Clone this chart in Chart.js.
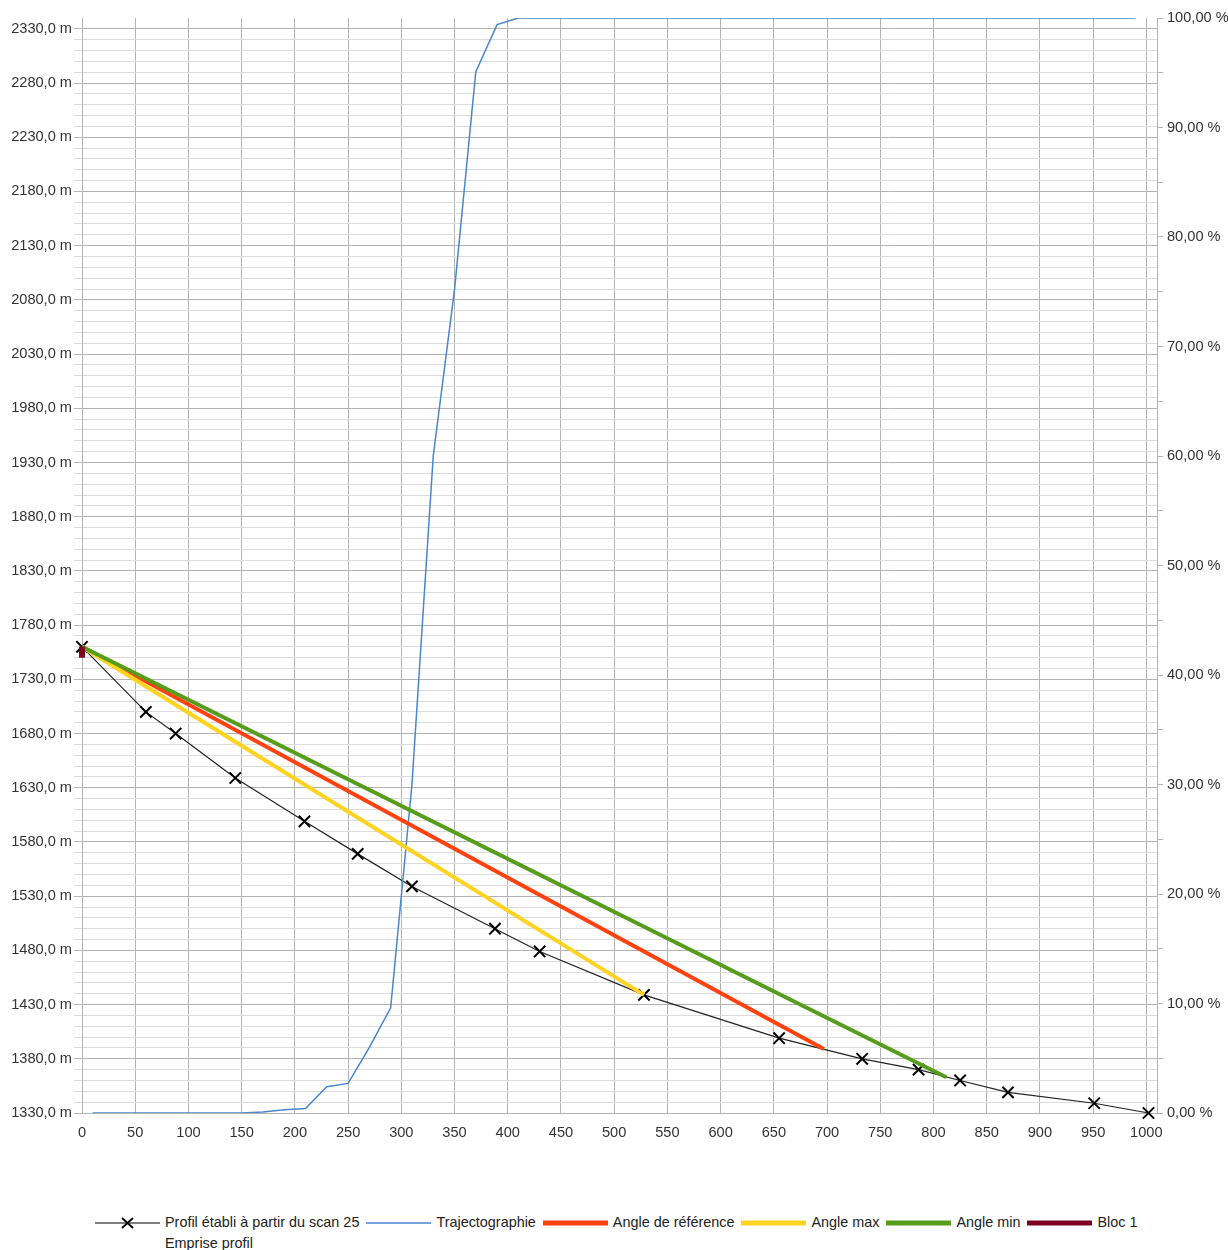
<!DOCTYPE html>
<html lang="fr">
<head>
  <meta charset="UTF-8">
  <title>Profil et trajectographie</title>
  <script src="https://cdn.jsdelivr.net/npm/chart.js"></script>
  <style>
    body {
      margin: 0;
      background: #fff;
      font-family: 'Liberation Sans', Arial, sans-serif;
    }
    #wrap {
      width: 1228px;
      height: 1160px;
    }
    .legend {
      display: flex;
      flex-wrap: wrap;
      width: 1080px;
      margin: 52px 0 0 95px;
      font-size: 14.4px;
      line-height: 21px;
      color: #222;
    }
    .item {
      display: flex;
      align-items: center;
      margin-right: 7px;
    }
    .item svg {
      margin-right: 5px;
    }
  </style>
</head>
<body>
  <div id="wrap"><canvas id="chartProfil" width="1228" height="1160"></canvas></div>
  <div class="legend" id="legend"></div>

  <script>
    // profil du terrain (distance, altitude)
    const profilX = [0, 60, 88, 144, 209, 259, 310, 388, 430, 528, 655, 733, 786, 825, 870, 951, 1002];
    const profilY = [1760, 1700, 1680, 1639, 1599, 1569, 1539, 1500, 1479, 1439, 1399, 1380, 1370, 1360, 1349, 1339, 1330];

    // trajectographie : % cumulé des arrêts (axe de droite)
    const trajX = [10, 30, 50, 70, 90, 110, 130, 150, 170, 190, 210, 230, 250, 270, 290, 310, 330, 350, 370, 390,
                   410, 430, 450, 470, 490, 510, 530, 550, 570, 590, 610, 630, 650, 670, 690, 710, 730, 750, 770, 790,
                   810, 830, 850, 870, 890, 910, 930, 950, 970, 990];
    const trajPct = [0, 0, 0, 0, 0, 0, 0, 0, 0.1, 0.3, 0.4, 2.4, 2.7, 6.0, 9.6, 30.0, 60.0, 75.2, 95.1, 99.4,
                     100, 100, 100, 100, 100, 100, 100, 100, 100, 100, 100, 100, 100, 100, 100, 100, 100, 100, 100, 100,
                     100, 100, 100, 100, 100, 100, 100, 100, 100, 100];

    // lignes d'énergie (départ, arrivée)
    const angleRefX = [0, 697];
    const angleRefY = [1760, 1389];
    const angleMaxX = [0, 528];
    const angleMaxY = [1760, 1439];
    const angleMinX = [0, 812];
    const angleMinY = [1760, 1363];
    const blocX = [0, 0];
    const blocY = [1760, 1750];

    // graduations
    const distTicks = [0, 50, 100, 150, 200, 250, 300, 350, 400, 450, 500, 550, 600, 650, 700, 750, 800, 850, 900, 950, 1000];
    const altLabels = [1330, 1380, 1430, 1480, 1530, 1580, 1630, 1680, 1730, 1780, 1830, 1880, 1930, 1980, 2030, 2080, 2130, 2180, 2230, 2280, 2330];
    const pctLabels = [0, 10, 20, 30, 40, 50, 60, 70, 80, 90, 100];

    const seriesNames = ['Profil établi à partir du scan 25', 'Trajectographie', 'Angle de référence', 'Angle max', 'Angle min', 'Bloc 1', 'Emprise profil'];
    const seriesColors = ['#000000', '#4a86cc', '#ff420e', '#ffd320', '#579d1c', '#7e0021', null];

    const pts = (xs, ys) => xs.map((x, i) => ({ x: x, y: ys[i] }));
    const fr = (v, d) => v.toFixed(d).replace('.', ',');
    const font = { family: "'Liberation Sans', Arial, sans-serif", size: 14.6 };
    const gridMajor = '#b3b3b3';
    const gridMinor = '#dcdcdc';

    const line = (name, idx, data, width, extra) => Object.assign({
      label: name,
      data: data,
      showLine: true,
      borderColor: seriesColors[idx],
      backgroundColor: seriesColors[idx],
      borderWidth: width,
      pointRadius: 0,
      tension: 0,
      yAxisID: 'y',
      order: 10 - idx
    }, extra || {});

    new Chart(document.getElementById('chartProfil'), {
      type: 'scatter',
      data: {
        datasets: [
          line(seriesNames[0], 0, pts(profilX, profilY), 1.2, {
            pointStyle: 'crossRot', pointRadius: 8, pointBorderWidth: 2,
            pointBorderColor: '#000', borderColor: '#222', clip: false
          }),
          line(seriesNames[1], 1, pts(trajX, trajPct), 1.5, { yAxisID: 'y2' }),
          line(seriesNames[2], 2, pts(angleRefX, angleRefY), 4),
          line(seriesNames[3], 3, pts(angleMaxX, angleMaxY), 4),
          line(seriesNames[4], 4, pts(angleMinX, angleMinY), 4),
          line(seriesNames[5], 5, pts(blocX, blocY), 6, { clip: false, borderCapStyle: 'butt' })
        ]
      },
      options: {
        responsive: false,
        animation: false,
        devicePixelRatio: 1,
        layout: { padding: { top: 18, left: 0, right: 0, bottom: 0 } },
        plugins: { legend: { display: false }, tooltip: { enabled: false } },
        scales: {
          x: {
            type: 'linear',
            min: 0,
            max: 1010,
            afterBuildTicks: s => { s.ticks = distTicks.map(v => ({ value: v })); },
            afterFit: s => { s.height = 47; },
            ticks: { autoSkip: false, maxRotation: 0, padding: 11, color: '#333', font: font, callback: v => String(v) },
            grid: { color: gridMajor, drawTicks: false },
            border: { color: gridMajor }
          },
          y: {
            position: 'left',
            min: 1330,
            max: 2340,
            afterBuildTicks: s => {
              const t = [];
              for (let v = 1330; v <= 2330; v += 10) t.push({ value: v });
              s.ticks = t;
            },
            afterFit: s => { s.width = 82; },
            ticks: {
              autoSkip: false, padding: 2, color: '#333', font: font,
              callback: v => altLabels.includes(v) ? fr(v, 1) + ' m' : ''
            },
            grid: {
              tickLength: 8,
              color: ctx => altLabels.includes(ctx.tick.value) ? gridMajor : gridMinor
            },
            border: { color: gridMajor }
          },
          y2: {
            position: 'right',
            min: 0,
            max: 100,
            afterBuildTicks: s => {
              const t = [];
              for (let v = 0; v <= 100; v += 5) t.push({ value: v });
              s.ticks = t;
            },
            afterFit: s => { s.width = 71; },
            ticks: {
              autoSkip: false, padding: 4, color: '#333', font: font,
              callback: v => pctLabels.includes(v) ? fr(v, 2) + ' %' : ''
            },
            grid: { drawOnChartArea: false, tickLength: 6, color: gridMajor },
            border: { color: gridMajor }
          }
        }
      }
    });

    // légende en bas
    const legend = document.getElementById('legend');
    seriesNames.forEach((name, i) => {
      const c = seriesColors[i];
      let svg = '<svg width="65" height="12" viewBox="0 0 65 12">';
      if (c) {
        const w = (i >= 2) ? 5 : (i === 1 ? 1.5 : 1.2);
        svg += '<line x1="0" y1="6" x2="65" y2="6" stroke="' + c + '" stroke-width="' + w + '"/>';
        if (i === 0) svg += '<path d="M27 1 L38 11 M38 1 L27 11" stroke="#000" stroke-width="1.8"/>';
      }
      svg += '</svg>';
      const el = document.createElement('div');
      el.className = 'item';
      el.innerHTML = svg + '<span>' + name + '</span>';
      legend.appendChild(el);
    });
  </script>
</body>
</html>
